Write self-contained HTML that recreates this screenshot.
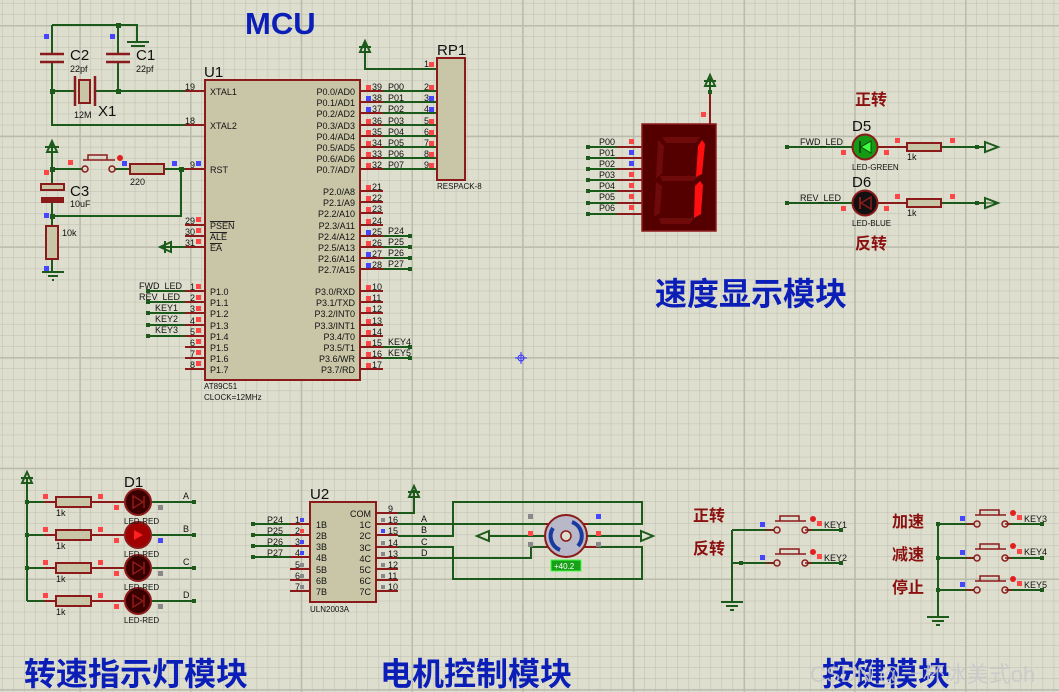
<!DOCTYPE html>
<html><head><meta charset="utf-8"><style>
html,body{margin:0;padding:0;background:#dedecf;}
svg{display:block;font-family:"Liberation Sans","Noto Sans CJK SC",sans-serif;}
.w{stroke:#1b5a1b;stroke-width:2;fill:none}
.p{stroke:#8b1a1a;stroke-width:2;fill:none}
.b{fill:#c9c6a8;stroke:#8b1a1a;stroke-width:2}
.t9{font-size:9px;fill:#111}
.t10{font-size:10px;fill:#111}
.t14{font-size:15px;fill:#111}
.r{fill:#ff4646}.u{fill:#4646ff}.g{fill:#888}
.j{fill:#1b5a1b}
.cn{font-weight:bold;fill:#0b1eb8;font-size:32px}
.cr{font-weight:bold;fill:#8b1010;font-size:16px}
</style></head><body>
<svg width="1059" height="692" viewBox="0 0 1059 692" xmlns="http://www.w3.org/2000/svg">
<defs>
<pattern id="mi" patternUnits="userSpaceOnUse" width="11.07" height="11.07" x="1.9" y="2.9"><path d="M0 0H11.07M0 0V11.07" stroke="#c3c3b3" stroke-width="1.2" fill="none"/></pattern>
<pattern id="ma" patternUnits="userSpaceOnUse" width="110.7" height="110.7" x="79.4" y="25"><path d="M0 0H110.7M0 0V110.7" stroke="#bbbbab" stroke-width="3" fill="none"/></pattern>
</defs>
<rect width="1059" height="692" fill="#dedecf"/>
<rect width="1059" height="692" fill="url(#mi)"/>
<rect width="1059" height="692" fill="url(#ma)"/>

<!-- titles -->
<text x="245" y="34" class="cn" style="font-size:31px">MCU</text>
<text x="655" y="305" class="cn">速度显示模块</text>
<text x="24" y="685" class="cn">转速指示灯模块</text>
<text x="380" y="685" class="cn">电机控制模块</text>
<text x="822" y="685" class="cn">按键模块</text>
<text x="810" y="682" style="font-size:22px;fill:#c8c8c8;opacity:.85">CSDN @一杯冰美式oh</text>

<!-- crystal / caps -->
<path class="w" d="M52 25H137V42M52 25V54M118 25V54M52 62V125H205M52 91H75M95 91H205M118 62V91"/>
<path d="M127 42H149M131 46H145" stroke="#1b5a1b" stroke-width="2"/>
<path d="M40 54H64M40 62H64M106 54H130M106 62H130" stroke="#8b1a1a" stroke-width="2.5"/>
<path d="M75 76V106M95 76V106" stroke="#8b1a1a" stroke-width="2.5"/>
<rect x="79" y="80" width="11" height="23" class="b"/>
<rect x="50" y="89" width="5" height="5" class="j"/><rect x="116" y="89" width="5" height="5" class="j"/><rect x="116" y="23" width="5" height="5" class="j"/>
<rect x="44" y="34" width="5" height="5" class="u"/><rect x="110" y="34" width="5" height="5" class="u"/>
<text x="70" y="60" class="t14">C2</text><text x="70" y="72" class="t9">22pf</text>
<text x="136" y="60" class="t14">C1</text><text x="136" y="72" class="t9">22pf</text>
<text x="74" y="118" class="t9">12M</text><text x="98" y="116" class="t14">X1</text>

<!-- reset -->
<path class="w" d="M52 142V186M52 169H82M115 169H130M164 169H205M181 169V216H52M52 203V226M52 259V272"/>
<path d="M47 152L52 141L57 152Z" fill="none" stroke="#1b5a1b" stroke-width="2"/><path d="M45 147H59" stroke="#1b5a1b" stroke-width="2"/>
<circle cx="85" cy="169" r="3" fill="none" stroke="#8b1a1a" stroke-width="1.5"/><circle cx="112" cy="169" r="3" fill="none" stroke="#8b1a1a" stroke-width="1.5"/>
<path d="M83 160H115M88 160V155H107V160" stroke="#8b1a1a" stroke-width="1.5" fill="none"/>
<circle cx="120" cy="158" r="3" fill="#e02020"/>
<rect x="130" y="164" width="34" height="10" class="b"/>
<rect x="41" y="184" width="23" height="6" class="b"/><rect x="41" y="197" width="23" height="6" fill="#8b1a1a"/>
<rect x="46" y="226" width="12" height="33" class="b"/>
<path d="M42 272H64M48 276H58M52 280H54" stroke="#1b5a1b" stroke-width="2"/>
<rect x="179" y="167" width="5" height="5" class="j"/><rect x="50" y="167" width="5" height="5" class="j"/><rect x="50" y="214" width="5" height="5" class="j"/>
<rect x="68" y="160" width="5" height="5" class="r"/><rect x="44" y="170" width="5" height="5" class="r"/><rect x="122" y="161" width="5" height="5" class="u"/><rect x="172" y="161" width="5" height="5" class="u"/><rect x="44" y="213" width="5" height="5" class="u"/><rect x="44" y="266" width="5" height="5" class="u"/>
<text x="130" y="185" class="t9">220</text><text x="70" y="196" class="t14">C3</text><text x="70" y="207" class="t9">10uF</text><text x="62" y="236" class="t9">10k</text>

<!-- U1 -->
<path class="p" d="M185 91H205M185 125H205M185 169H205M185 225H205M185 236H205M185 247H205M185 291H205M185 302H205M185 313H205M185 325H205M185 336H205M185 347H205M185 358H205M185 369H205"/>
<path class="p" d="M360 91H383M360 102H383M360 113H383M360 125H383M360 136H383M360 147H383M360 158H383M360 169H383M360 191H383M360 202H383M360 213H383M360 225H383M360 236H383M360 247H383M360 258H383M360 269H383M360 291H383M360 302H383M360 313H383M360 325H383M360 336H383M360 347H383M360 358H383M360 369H383"/>
<rect x="205" y="80" width="155" height="300" class="b"/>
<text x="204" y="77" class="t14">U1</text>
<g class="t9">
<text x="210" y="95">XTAL1</text><text x="210" y="129">XTAL2</text><text x="210" y="173">RST</text>
<text x="210" y="229" style="text-decoration:overline">PSEN</text><text x="210" y="240" style="text-decoration:overline">ALE</text><text x="210" y="251" style="text-decoration:overline">EA</text>
<text x="210" y="295">P1.0</text><text x="210" y="306">P1.1</text><text x="210" y="317">P1.2</text><text x="210" y="329">P1.3</text><text x="210" y="340">P1.4</text><text x="210" y="351">P1.5</text><text x="210" y="362">P1.6</text><text x="210" y="373">P1.7</text>
</g>
<g class="t9" text-anchor="end">
<text x="355" y="95">P0.0/AD0</text><text x="355" y="106">P0.1/AD1</text><text x="355" y="117">P0.2/AD2</text><text x="355" y="129">P0.3/AD3</text><text x="355" y="140">P0.4/AD4</text><text x="355" y="151">P0.5/AD5</text><text x="355" y="162">P0.6/AD6</text><text x="355" y="173">P0.7/AD7</text>
<text x="355" y="195">P2.0/A8</text><text x="355" y="206">P2.1/A9</text><text x="355" y="217">P2.2/A10</text><text x="355" y="229">P2.3/A11</text><text x="355" y="240">P2.4/A12</text><text x="355" y="251">P2.5/A13</text><text x="355" y="262">P2.6/A14</text><text x="355" y="273">P2.7/A15</text>
<text x="355" y="295">P3.0/RXD</text><text x="355" y="306">P3.1/TXD</text><text x="355" y="317">P3.2/INT0</text><text x="355" y="329">P3.3/INT1</text><text x="355" y="340">P3.4/T0</text><text x="355" y="351">P3.5/T1</text><text x="355" y="362">P3.6/WR</text><text x="355" y="373">P3.7/RD</text>
<text x="195" y="90">19</text><text x="195" y="124">18</text><text x="195" y="168">9</text><text x="195" y="224">29</text><text x="195" y="235">30</text><text x="195" y="246">31</text>
<text x="195" y="290">1</text><text x="195" y="301">2</text><text x="195" y="312">3</text><text x="195" y="324">4</text><text x="195" y="335">5</text><text x="195" y="346">6</text><text x="195" y="357">7</text><text x="195" y="368">8</text>
</g>
<g class="t9">
<text x="372" y="90">39</text><text x="372" y="101">38</text><text x="372" y="112">37</text><text x="372" y="124">36</text><text x="372" y="135">35</text><text x="372" y="146">34</text><text x="372" y="157">33</text><text x="372" y="168">32</text>
<text x="372" y="190">21</text><text x="372" y="201">22</text><text x="372" y="212">23</text><text x="372" y="224">24</text><text x="372" y="235">25</text><text x="372" y="246">26</text><text x="372" y="257">27</text><text x="372" y="268">28</text>
<text x="372" y="290">10</text><text x="372" y="301">11</text><text x="372" y="312">12</text><text x="372" y="324">13</text><text x="372" y="335">14</text><text x="372" y="346">15</text><text x="372" y="357">16</text><text x="372" y="368">17</text>
<text x="388" y="90">P00</text><text x="388" y="101">P01</text><text x="388" y="112">P02</text><text x="388" y="124">P03</text><text x="388" y="135">P04</text><text x="388" y="146">P05</text><text x="388" y="157">P06</text><text x="388" y="168">P07</text>
<text x="388" y="234">P24</text><text x="388" y="245">P25</text><text x="388" y="256">P26</text><text x="388" y="267">P27</text>
<text x="388" y="345">KEY4</text><text x="388" y="356">KEY5</text>
<text x="139" y="289">FWD_LED</text><text x="139" y="300">REV_LED</text><text x="155" y="311">KEY1</text><text x="155" y="322">KEY2</text><text x="155" y="333">KEY3</text>
<text x="204" y="389" style="font-size:8px">AT89C51</text><text x="204" y="400" style="font-size:8px">CLOCK=12MHz</text>
</g>
<g>
<rect x="366" y="85" width="5" height="5" class="r"/><rect x="366" y="96" width="5" height="5" class="u"/><rect x="366" y="107" width="5" height="5" class="u"/><rect x="366" y="119" width="5" height="5" class="r"/><rect x="366" y="130" width="5" height="5" class="r"/><rect x="366" y="141" width="5" height="5" class="r"/><rect x="366" y="152" width="5" height="5" class="r"/><rect x="366" y="163" width="5" height="5" class="r"/>
<rect x="366" y="185" width="5" height="5" class="r"/><rect x="366" y="196" width="5" height="5" class="r"/><rect x="366" y="207" width="5" height="5" class="r"/><rect x="366" y="219" width="5" height="5" class="r"/><rect x="366" y="230" width="5" height="5" class="u"/><rect x="366" y="241" width="5" height="5" class="r"/><rect x="366" y="252" width="5" height="5" class="u"/><rect x="366" y="263" width="5" height="5" class="u"/>
<rect x="366" y="285" width="5" height="5" class="r"/><rect x="366" y="296" width="5" height="5" class="r"/><rect x="366" y="307" width="5" height="5" class="r"/><rect x="366" y="319" width="5" height="5" class="r"/><rect x="366" y="330" width="5" height="5" class="r"/><rect x="366" y="341" width="5" height="5" class="r"/><rect x="366" y="352" width="5" height="5" class="r"/><rect x="366" y="363" width="5" height="5" class="r"/>
<rect x="196" y="161" width="5" height="5" class="u"/>
<rect x="196" y="217" width="5" height="5" class="r"/><rect x="196" y="228" width="5" height="5" class="r"/><rect x="196" y="239" width="5" height="5" class="r"/>
<rect x="196" y="284" width="5" height="5" class="r"/><rect x="196" y="295" width="5" height="5" class="r"/><rect x="196" y="306" width="5" height="5" class="r"/><rect x="196" y="317" width="5" height="5" class="r"/><rect x="196" y="328" width="5" height="5" class="r"/><rect x="196" y="339" width="5" height="5" class="r"/><rect x="196" y="350" width="5" height="5" class="r"/><rect x="196" y="361" width="5" height="5" class="r"/>
</g>
<path class="w" d="M383 91H437M383 102H437M383 113H437M383 125H437M383 136H437M383 147H437M383 158H437M383 169H437M437 69H365V42M383 236H410M383 247H410M383 258H410M383 269H410M383 347H410M383 358H410M148 291H185M148 302H185M148 313H185M148 325H185M148 336H185M160 247H185"/>
<path d="M360 52L365 41L370 52Z" fill="none" stroke="#1b5a1b" stroke-width="2"/><path d="M359 47H371" stroke="#1b5a1b" stroke-width="2"/>
<path d="M171 242L160 247L171 252Z" fill="none" stroke="#1b5a1b" stroke-width="2"/><path d="M165 241V253" stroke="#1b5a1b" stroke-width="2"/>
<g class="j"><rect x="408" y="234" width="4" height="4"/><rect x="408" y="245" width="4" height="4"/><rect x="408" y="256" width="4" height="4"/><rect x="408" y="267" width="4" height="4"/><rect x="408" y="345" width="4" height="4"/><rect x="408" y="356" width="4" height="4"/><rect x="146" y="289" width="4" height="4"/><rect x="146" y="300" width="4" height="4"/><rect x="146" y="311" width="4" height="4"/><rect x="146" y="323" width="4" height="4"/><rect x="146" y="334" width="4" height="4"/></g>
<rect x="437" y="58" width="28" height="122" class="b"/>
<text x="437" y="55" class="t14">RP1</text><text x="437" y="189" class="t9" style="font-size:8px">RESPACK-8</text>
<g class="t9"><text x="424" y="67">1</text><text x="424" y="90">2</text><text x="424" y="101">3</text><text x="424" y="112">4</text><text x="424" y="124">5</text><text x="424" y="135">6</text><text x="424" y="146">7</text><text x="424" y="157">8</text><text x="424" y="168">9</text></g>
<g><rect x="429" y="62" width="5" height="5" class="r"/><rect x="429" y="85" width="5" height="5" class="r"/><rect x="429" y="96" width="5" height="5" class="u"/><rect x="429" y="107" width="5" height="5" class="u"/><rect x="429" y="119" width="5" height="5" class="r"/><rect x="429" y="130" width="5" height="5" class="r"/><rect x="429" y="141" width="5" height="5" class="r"/><rect x="429" y="152" width="5" height="5" class="r"/><rect x="429" y="163" width="5" height="5" class="r"/></g>

<!-- crosshair -->
<path d="M515 358H527M521 352V364" stroke="#3030ff" stroke-width="1"/><circle cx="521" cy="358" r="3" fill="none" stroke="#3030ff"/>

<!-- 7-seg -->
<path class="w" d="M588 147H617M588 158H617M588 169H617M588 180H617M588 191H617M588 203H617M588 214H617M710 92V78"/>
<path class="p" d="M617 147H642M617 158H642M617 169H642M617 180H642M617 191H642M617 203H642M617 214H642M710 92V124"/>
<path d="M705 86L710 75L715 86Z" fill="none" stroke="#1b5a1b" stroke-width="2"/><path d="M704 81H716" stroke="#1b5a1b" stroke-width="2"/>
<rect x="708" y="90" width="4" height="4" class="j"/>
<g class="j"><rect x="586" y="145" width="4" height="4"/><rect x="586" y="156" width="4" height="4"/><rect x="586" y="167" width="4" height="4"/><rect x="586" y="178" width="4" height="4"/><rect x="586" y="189" width="4" height="4"/><rect x="586" y="201" width="4" height="4"/><rect x="586" y="212" width="4" height="4"/></g>
<g class="t9"><text x="599" y="145">P00</text><text x="599" y="156">P01</text><text x="599" y="167">P02</text><text x="599" y="178">P03</text><text x="599" y="189">P04</text><text x="599" y="200">P05</text><text x="599" y="211">P06</text></g>
<g><rect x="629" y="139" width="5" height="5" class="r"/><rect x="629" y="150" width="5" height="5" class="u"/><rect x="629" y="161" width="5" height="5" class="u"/><rect x="629" y="172" width="5" height="5" class="r"/><rect x="629" y="183" width="5" height="5" class="r"/><rect x="629" y="194" width="5" height="5" class="r"/><rect x="629" y="205" width="5" height="5" class="r"/><rect x="701" y="112" width="5" height="5" class="r"/></g>
<rect x="642" y="124" width="74" height="107" fill="#550000" stroke="#8b1a1a" stroke-width="1.5"/>
<g fill="#6e0a0a">
<polygon points="662,137 700,137 696,143 666,143"/>
<polygon points="658,140 664,146 662,174 656,178"/>
<polygon points="656,182 662,186 660,213 654,217"/>
<polygon points="660,176 698,176 694,181 662,181"/>
<polygon points="659,218 694,218 690,224 661,224"/>
</g>
<g fill="#ff1010">
<polygon points="702,140 705,144 702,174 696,177 698,146"/>
<polygon points="700,181 703,185 701,214 694,218 695,186"/>
</g>

<!-- D5 / D6 -->
<path class="w" d="M788 147H852M941 147H985M788 203H852M941 203H985"/>
<path class="p" d="M852 147H907M852 203H907"/>
<g class="j"><rect x="785" y="145" width="4" height="4"/><rect x="975" y="145" width="4" height="4"/><rect x="785" y="201" width="4" height="4"/><rect x="975" y="201" width="4" height="4"/></g>
<path d="M985 142L998 147L985 152Z" fill="none" stroke="#1b5a1b" stroke-width="2"/><path d="M985 203H998" stroke="#1b5a1b"/>
<path d="M985 198L998 203L985 208Z" fill="none" stroke="#1b5a1b" stroke-width="2"/>
<circle cx="865" cy="147" r="12.5" fill="#159a15" stroke="#8b1a1a" stroke-width="2"/>
<polygon points="871,141 871,153 861,147" fill="#40ff40" stroke="#0a4a0a"/><path d="M860 141V153" stroke="#0a4a0a" stroke-width="2"/>
<circle cx="865" cy="203" r="12.5" fill="#111" stroke="#8b1a1a" stroke-width="2"/>
<polygon points="871,197 871,209 861,203" fill="none" stroke="#8b1a1a" stroke-width="1.5"/><path d="M860 197V209" stroke="#8b1a1a" stroke-width="2"/>
<rect x="907" y="143" width="34" height="8" class="b"/><rect x="907" y="199" width="34" height="8" class="b"/>
<g><rect x="841" y="150" width="5" height="5" class="r"/><rect x="884" y="150" width="5" height="5" class="r"/><rect x="895" y="138" width="5" height="5" class="r"/><rect x="950" y="138" width="5" height="5" class="r"/><rect x="841" y="206" width="5" height="5" class="r"/><rect x="884" y="206" width="5" height="5" class="r"/><rect x="895" y="194" width="5" height="5" class="r"/><rect x="950" y="194" width="5" height="5" class="r"/></g>
<text x="800" y="145" class="t9">FWD_LED</text><text x="800" y="201" class="t9">REV_LED</text>
<text x="852" y="131" class="t14">D5</text><text x="852" y="187" class="t14">D6</text>
<text x="852" y="170" class="t9" style="font-size:8px">LED-GREEN</text><text x="852" y="226" class="t9" style="font-size:8px">LED-BLUE</text>
<text x="907" y="160" class="t9">1k</text><text x="907" y="216" class="t9">1k</text>
<text x="855" y="105" class="cr">正转</text><text x="855" y="249" class="cr">反转</text>

<!-- LED module -->
<path class="w" d="M27 478V601M27 502H44M27 535H44M27 568H44M27 601H44M152 502H194M152 535H194M152 568H194M152 601H194"/>
<path class="p" d="M44 502H124M44 535H124M44 568H124M44 601H124"/>
<path d="M22 483L27 472L32 483Z" fill="none" stroke="#1b5a1b" stroke-width="2"/><path d="M21 478H33" stroke="#1b5a1b" stroke-width="2"/>
<g class="j"><rect x="25" y="500" width="4" height="4"/><rect x="25" y="533" width="4" height="4"/><rect x="25" y="566" width="4" height="4"/><rect x="192" y="500" width="4" height="4"/><rect x="192" y="533" width="4" height="4"/><rect x="192" y="566" width="4" height="4"/><rect x="192" y="599" width="4" height="4"/></g>
<rect x="56" y="497" width="35" height="10" class="b"/><rect x="56" y="530" width="35" height="10" class="b"/><rect x="56" y="563" width="35" height="10" class="b"/><rect x="56" y="596" width="35" height="10" class="b"/>
<circle cx="138" cy="502" r="13" fill="#3a0000" stroke="#8b1a1a" stroke-width="2"/>
<circle cx="138" cy="535" r="13" fill="#a00000" stroke="#8b1a1a" stroke-width="2"/>
<circle cx="138" cy="568" r="13" fill="#3a0000" stroke="#8b1a1a" stroke-width="2"/>
<circle cx="138" cy="601" r="13" fill="#3a0000" stroke="#8b1a1a" stroke-width="2"/>
<g fill="none" stroke="#8b1a1a" stroke-width="1.5"><polygon points="133,496 133,508 143,502"/><path d="M144 496V508"/><polygon points="133,562 133,574 143,568"/><path d="M144 562V574"/><polygon points="133,595 133,607 143,601"/><path d="M144 595V607"/></g>
<polygon points="134,530 134,540 143,535" fill="#ff2020"/>
<g><rect x="43" y="494" width="5" height="5" class="r"/><rect x="98" y="494" width="5" height="5" class="r"/><rect x="43" y="527" width="5" height="5" class="r"/><rect x="98" y="527" width="5" height="5" class="r"/><rect x="43" y="560" width="5" height="5" class="r"/><rect x="98" y="560" width="5" height="5" class="r"/><rect x="43" y="593" width="5" height="5" class="r"/><rect x="98" y="593" width="5" height="5" class="r"/>
<rect x="114" y="505" width="5" height="5" class="r"/><rect x="114" y="538" width="5" height="5" class="r"/><rect x="114" y="571" width="5" height="5" class="r"/><rect x="114" y="604" width="5" height="5" class="r"/>
<rect x="158" y="505" width="5" height="5" class="g"/><rect x="158" y="538" width="5" height="5" class="u"/><rect x="158" y="571" width="5" height="5" class="g"/><rect x="158" y="604" width="5" height="5" class="g"/></g>
<g class="t9"><text x="56" y="516">1k</text><text x="56" y="549">1k</text><text x="56" y="582">1k</text><text x="56" y="615">1k</text>
<text x="183" y="499">A</text><text x="183" y="532">B</text><text x="183" y="565">C</text><text x="183" y="598">D</text>
<text x="124" y="524" style="font-size:8px">LED-RED</text><text x="124" y="557" style="font-size:8px">LED-RED</text><text x="124" y="590" style="font-size:8px">LED-RED</text><text x="124" y="623" style="font-size:8px">LED-RED</text></g>
<text x="124" y="487" class="t14">D1</text>

<!-- U2 -->
<path class="w" d="M253 524H290M253 535H290M253 546H290M253 557H290M398 513H414V490M398 524H642V502H453V536H398M398 547H453V579H642V547H598M398 558H531V547H545M588 524H642M531 524H545"/>
<path d="M409 497L414 486L419 497Z" fill="none" stroke="#1b5a1b" stroke-width="2"/><path d="M408 492H420" stroke="#1b5a1b" stroke-width="2"/>
<path class="p" d="M290 524H310M290 535H310M290 546H310M290 557H310M290 569H310M290 580H310M290 591H310M376 513H398M376 524H398M376 535H398M376 547H398M376 558H398M376 569H398M376 580H398M376 591H398"/>
<g class="j"><rect x="251" y="522" width="4" height="4"/><rect x="251" y="533" width="4" height="4"/><rect x="251" y="544" width="4" height="4"/><rect x="251" y="555" width="4" height="4"/></g>
<rect x="310" y="502" width="66" height="100" class="b"/>
<text x="310" y="499" class="t14">U2</text>
<g class="t9">
<text x="316" y="528">1B</text><text x="316" y="539">2B</text><text x="316" y="550">3B</text><text x="316" y="561">4B</text><text x="316" y="573">5B</text><text x="316" y="584">6B</text><text x="316" y="595">7B</text>
<text x="371" y="517" text-anchor="end">COM</text><text x="371" y="528" text-anchor="end">1C</text><text x="371" y="539" text-anchor="end">2C</text><text x="371" y="551" text-anchor="end">3C</text><text x="371" y="562" text-anchor="end">4C</text><text x="371" y="573" text-anchor="end">5C</text><text x="371" y="584" text-anchor="end">6C</text><text x="371" y="595" text-anchor="end">7C</text>
<text x="267" y="523">P24</text><text x="267" y="534">P25</text><text x="267" y="545">P26</text><text x="267" y="556">P27</text>
<text x="295" y="523">1</text><text x="295" y="534">2</text><text x="295" y="545">3</text><text x="295" y="556">4</text><text x="295" y="568">5</text><text x="295" y="579">6</text><text x="295" y="590">7</text>
<text x="388" y="512">9</text><text x="388" y="523">16</text><text x="388" y="534">15</text><text x="388" y="546">14</text><text x="388" y="557">13</text><text x="388" y="568">12</text><text x="388" y="579">11</text><text x="388" y="590">10</text>
<text x="421" y="522">A</text><text x="421" y="533">B</text><text x="421" y="545">C</text><text x="421" y="556">D</text>
<text x="310" y="612" style="font-size:8px">ULN2003A</text></g>
<g><rect x="300" y="518" width="4" height="4" class="u"/><rect x="300" y="529" width="4" height="4" class="r"/><rect x="300" y="540" width="4" height="4" class="u"/><rect x="300" y="551" width="4" height="4" class="u"/><rect x="300" y="563" width="4" height="4" class="g"/><rect x="300" y="574" width="4" height="4" class="g"/><rect x="300" y="585" width="4" height="4" class="g"/>
<rect x="381" y="518" width="4" height="4" class="g"/><rect x="381" y="529" width="4" height="4" class="u"/><rect x="381" y="541" width="4" height="4" class="g"/><rect x="381" y="552" width="4" height="4" class="g"/><rect x="381" y="563" width="4" height="4" class="g"/><rect x="381" y="574" width="4" height="4" class="g"/><rect x="381" y="585" width="4" height="4" class="g"/></g>
<!-- motor -->
<path class="w" d="M477 536H653"/>
<path d="M489 531L477 536L489 541Z" fill="#dedecf" stroke="#1b5a1b" stroke-width="2"/>
<path d="M641 531L653 536L641 541Z" fill="#dedecf" stroke="#1b5a1b" stroke-width="2"/>
<path class="p" d="M545 524H550M545 547H552M582 524H588M580 547H598"/>
<circle cx="566" cy="536" r="21" fill="#b8b8c8" stroke="#8b1a1a" stroke-width="2"/>
<path d="M572 522A15 15 0 0 1 578 546" stroke="#1a3aa0" stroke-width="4" fill="none"/>
<path d="M560 550A15 15 0 0 1 553 528" stroke="#1a3aa0" stroke-width="4" fill="none"/>
<circle cx="566" cy="536" r="5" fill="#dedecf" stroke="#8b1a1a" stroke-width="1.5"/>
<rect x="528" y="514" width="5" height="5" class="g"/><rect x="528" y="531" width="5" height="5" class="r"/><rect x="528" y="542" width="5" height="5" class="g"/><rect x="596" y="514" width="5" height="5" class="u"/><rect x="596" y="531" width="5" height="5" class="r"/><rect x="596" y="542" width="5" height="5" class="g"/>
<rect x="551" y="560" width="30" height="11" fill="#18a018" stroke="#40ff40"/>
<text x="554" y="569" style="font-size:8px;fill:#fff">+40.2</text>

<!-- keys left -->
<text x="693" y="521" class="cr">正转</text><text x="693" y="554" class="cr">反转</text>
<path class="w" d="M732 530V602M732 530H774M732 563H774M808 530H841M808 563H841"/>
<path d="M721 602H743M726 606H738M730 610H734" stroke="#1b5a1b" stroke-width="2"/>
<!-- keys right -->
<text x="892" y="527" class="cr">加速</text><text x="892" y="560" class="cr">减速</text><text x="892" y="593" class="cr">停止</text>
<path class="w" d="M938 524V617M938 524H974M938 558H974M938 590H974M1008 524H1042M1008 558H1042M1008 590H1042"/>
<path d="M927 617H949M932 621H944M936 625H940" stroke="#1b5a1b" stroke-width="2"/>
<g class="j"><rect x="739" y="561" width="4" height="4"/><rect x="839" y="528" width="4" height="4"/><rect x="839" y="561" width="4" height="4"/><rect x="936" y="522" width="4" height="4"/><rect x="936" y="556" width="4" height="4"/><rect x="936" y="588" width="4" height="4"/><rect x="1040" y="522" width="4" height="4"/><rect x="1040" y="556" width="4" height="4"/><rect x="1040" y="588" width="4" height="4"/></g>
<g fill="none" stroke="#8b1a1a" stroke-width="1.5">
<path d="M766 530H774M805 530H812M775 521H806M780 521V516H799V521"/><circle cx="777" cy="530" r="3"/><circle cx="805" cy="530" r="3"/>
<path d="M766 563H774M805 563H812M775 554H806M780 554V549H799V554"/><circle cx="777" cy="563" r="3"/><circle cx="805" cy="563" r="3"/>
<path d="M966 524H974M1005 524H1012M975 515H1006M980 515V510H999V515"/><circle cx="977" cy="524" r="3"/><circle cx="1005" cy="524" r="3"/>
<path d="M966 558H974M1005 558H1012M975 549H1006M980 549V544H999V549"/><circle cx="977" cy="558" r="3"/><circle cx="1005" cy="558" r="3"/>
<path d="M966 590H974M1005 590H1012M975 581H1006M980 581V576H999V581"/><circle cx="977" cy="590" r="3"/><circle cx="1005" cy="590" r="3"/>
</g>
<g fill="#e02020"><circle cx="813" cy="519" r="3"/><circle cx="813" cy="552" r="3"/><circle cx="1013" cy="513" r="3"/><circle cx="1013" cy="546" r="3"/><circle cx="1013" cy="579" r="3"/></g>
<g><rect x="760" y="522" width="5" height="5" class="u"/><rect x="760" y="555" width="5" height="5" class="u"/><rect x="817" y="521" width="5" height="5" class="r"/><rect x="817" y="554" width="5" height="5" class="r"/>
<rect x="960" y="516" width="5" height="5" class="u"/><rect x="960" y="550" width="5" height="5" class="u"/><rect x="960" y="582" width="5" height="5" class="u"/><rect x="1017" y="515" width="5" height="5" class="r"/><rect x="1017" y="549" width="5" height="5" class="r"/><rect x="1017" y="581" width="5" height="5" class="r"/></g>
<g class="t9"><text x="824" y="528">KEY1</text><text x="824" y="561">KEY2</text><text x="1024" y="522">KEY3</text><text x="1024" y="555">KEY4</text><text x="1024" y="588">KEY5</text></g>
</svg>
</body></html>
